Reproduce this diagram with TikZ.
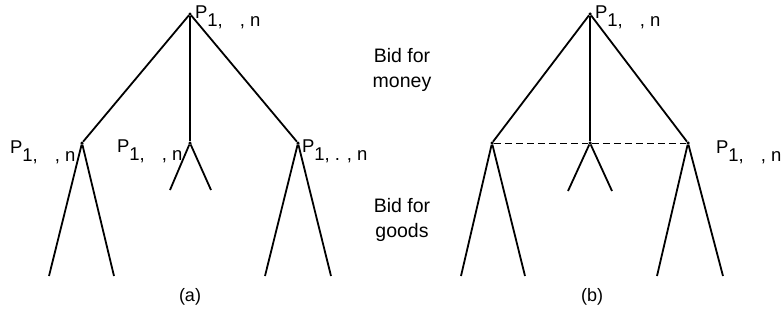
\documentclass[tikz,border=0pt]{standalone}
\usepackage{fontspec}
\setmainfont{Liberation Sans}
\usetikzlibrary{positioning}

\newcommand{\pname}[1]{P\raisebox{-8pt}{#1}}

\begin{document}
\begin{tikzpicture}[
        x=1pt, y=-1pt,
        every node/.style={inner sep=0pt, outer sep=0pt},
        vtx/.style={circle, fill, minimum size=3.5pt},
        edge/.style={line width=1.8pt},
        info/.style={line width=1pt, dash pattern=on 7pt off 4pt},
        plabel/.style={anchor=base west, font=\fontsize{18.5}{20}\selectfont},
        stage/.style={align=center, font=\fontsize{19.5}{25}\selectfont},
        caption/.style={font=\fontsize{18}{20}\selectfont},
    ]
        \useasboundingbox (0,0) rectangle (781,330);

        % tree (a)
        \node[vtx] (aroot) at (190,14) {};
        \node[vtx] (aleft) at (82,143) {};
        \node[vtx] (amid) at (190,143) {};
        \node[vtx] (aright) at (298,143) {};
        \coordinate (aleft1) at (49,276);
        \coordinate (aleft2) at (114,276);
        \coordinate (amid1) at (170,190);
        \coordinate (amid2) at (211,190);
        \coordinate (aright1) at (265,276);
        \coordinate (aright2) at (331,276);
        \draw[edge] (aroot) -- (aleft);
        \draw[edge] (aroot) -- (amid);
        \draw[edge] (aroot) -- (aright);
        \draw[edge] (aleft1) -- (aleft) -- (aleft2);
        \draw[edge] (amid1) -- (amid) -- (amid2);
        \draw[edge] (aright1) -- (aright) -- (aright2);
        \node[plabel] (lroot) at (195,18) {\pname{1,\hspace{17pt}, n}};
        \node[plabel] (lleft) at (10,153) {\pname{1,\hspace{17pt}, n}};
        \node[plabel] (lmid) at (117,152) {\pname{1,\hspace{17pt}, n}};
        \node[plabel] (lright) at (302,152) {\pname{1, . , n}};
        \node[caption] (capa) at (190,297) {(a)};

        % tree (b)
        \node[vtx] (broot) at (590,14) {};
        \node[vtx] (bleft) at (492,143) {};
        \node[vtx] (bmid) at (590,143) {};
        \node[vtx] (bright) at (688,143) {};
        \coordinate (bleft1) at (461,276);
        \coordinate (bleft2) at (525,276);
        \coordinate (bmid1) at (568,191);
        \coordinate (bmid2) at (612,191);
        \coordinate (bright1) at (657,276);
        \coordinate (bright2) at (723,276);
        \draw[edge] (broot) -- (bleft);
        \draw[edge] (broot) -- (bmid);
        \draw[edge] (broot) -- (bright);
        \draw[edge] (bleft1) -- (bleft) -- (bleft2);
        \draw[edge] (bmid1) -- (bmid) -- (bmid2);
        \draw[edge] (bright1) -- (bright) -- (bright2);
        \draw[info] (bleft) -- (bmid) -- (bright);
        \node[plabel] (lbroot) at (595,18) {\pname{1,\hspace{17pt}, n}};
        \node[plabel] (lbright) at (716,153) {\pname{1,\hspace{17pt}, n}};
        \node[caption] (capb) at (592,297) {(b)};

        % stages
        \node[stage] (money) at (402,70) {Bid for\\money};
        \node[stage] (goods) at (402,220) {Bid for\\goods};
    \end{tikzpicture}
\end{document}
